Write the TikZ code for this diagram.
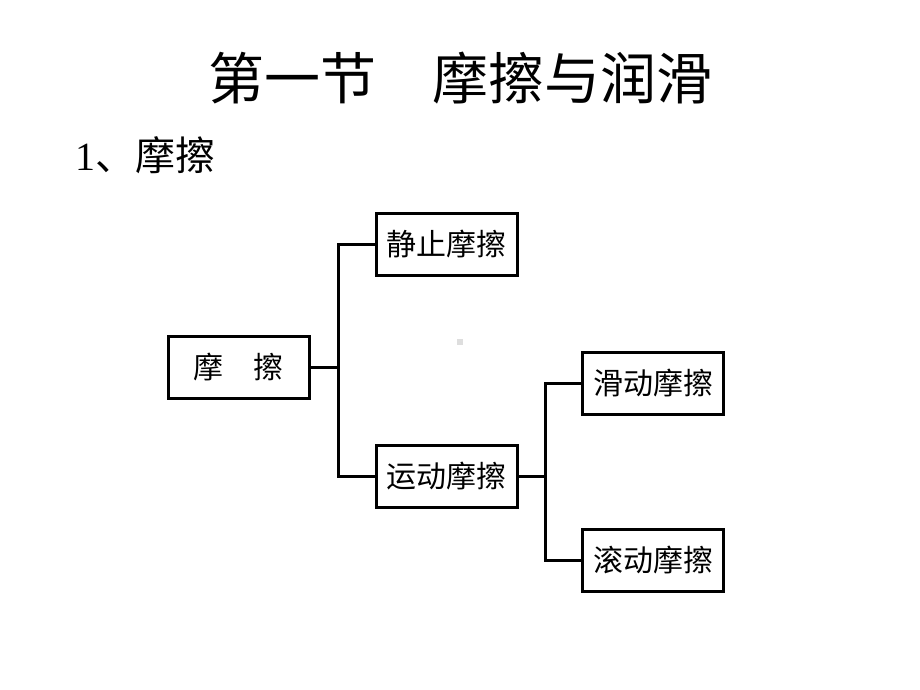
\documentclass[tikz,border=0pt]{standalone}
\usepackage{fontspec}
\setmainfont{Liberation Serif}
\newfontfamily\cjk{Noto Sans CJK SC}
\begin{document}
\begin{tikzpicture}[x=1pt,y=-1pt,
  box/.style={draw=black,line width=3pt,fill=white,minimum width=141pt,minimum height=62pt,inner sep=0pt,font=\cjk\fontsize{30}{32}\selectfont},
  conn/.style={draw=black,line width=3pt}]
\useasboundingbox[fill=white] (0,0) rectangle (920,690);
\node[font=\cjk\fontsize{56}{60}\selectfont] (title) at (460,78) {第一节　摩擦与润滑};
\node[anchor=west,inner sep=0pt] (sub) at (75,155) {\fontsize{40}{42}\selectfont 1\cjk 、摩擦};
\node[box] (mc) at (238.5,367.5) {摩　擦};
\node[box] (jz) at (446.5,244.5) {静止摩擦};
\node[box] (yd) at (446.5,476) {运动摩擦};
\node[box] (hd) at (653,383) {滑动摩擦};
\node[box] (gd) at (653,560.5) {滚动摩擦};
\coordinate (j1) at (338,367.5);
\coordinate (j2) at (545,476);
\draw[conn] (mc.east) -- (j1);
\draw[conn] (jz.west) -| (j1) |- (yd.west);
\draw[conn] (yd.east) -- (j2);
\draw[conn] (hd.west) -| (j2) |- (gd.west);
\fill[black!13] (457,339) rectangle (463,345);
\end{tikzpicture}
\end{document}
